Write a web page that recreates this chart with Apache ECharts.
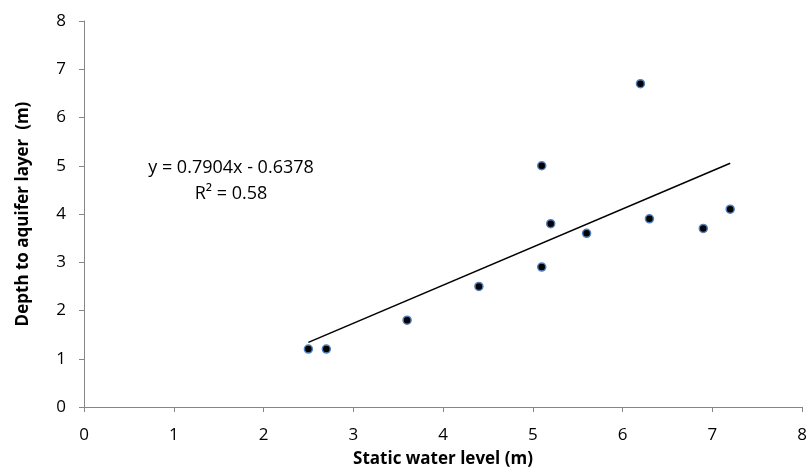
<!DOCTYPE html>
<html>
<head>
<meta charset="utf-8">
<script src="https://cdn.jsdelivr.net/npm/echarts@6/dist/echarts.min.js"></script>
<style>
html,body{margin:0;padding:0;background:#fff;}
#chart{width:810px;height:473px;}
</style>
</head>
<body>
<div id="chart"></div>
<script>
var staticLevel = [2.5, 2.7, 3.6, 4.4, 5.1, 5.1, 5.2, 5.6, 6.2, 6.3, 6.9, 7.2];
var aquiferDepth = [1.2, 1.2, 1.8, 2.5, 2.9, 5.0, 3.8, 3.6, 6.7, 3.9, 3.7, 4.1];
var trendSlope = 0.7904;
var trendIntercept = -0.6378;
var rSquared = 0.58;
var axisTicks = [0, 1, 2, 3, 4, 5, 6, 7, 8];

var points = staticLevel.map(function (x, i) { return [x, aquiferDepth[i]]; });
var xMin = Math.min.apply(null, staticLevel);
var xMax = Math.max.apply(null, staticLevel);
var trend = [[xMin, trendSlope * xMin + trendIntercept], [xMax, trendSlope * xMax + trendIntercept]];

var FONT = '"Open Sans", "Liberation Sans", sans-serif';
var axisCommon = {
  min: axisTicks[0], max: axisTicks[axisTicks.length - 1], interval: 1,
  splitLine: { show: false },
  axisLine: { show: true, onZero: false, lineStyle: { color: '#868686', width: 1 } },
  axisTick: { show: true, length: 5, lineStyle: { color: '#868686' } },
  axisLabel: { color: '#000', fontSize: 17, fontFamily: FONT },
  nameLocation: 'middle',
  nameTextStyle: { color: '#000', fontSize: 17, fontWeight: 'bold', fontFamily: FONT }
};

var chart = echarts.init(document.getElementById('chart'), null, { renderer: 'canvas' });
chart.setOption({
  animation: false,
  backgroundColor: '#fff',
  grid: { left: 84, right: 8, top: 21, bottom: 66, containLabel: false },
  xAxis: Object.assign({}, axisCommon, {
    type: 'value', name: 'Static water level (m)', nameGap: 44,
    axisLabel: Object.assign({}, axisCommon.axisLabel, { margin: 20 })
  }),
  yAxis: Object.assign({}, axisCommon, {
    type: 'value', name: 'Depth to aquifer layer  (m)', nameGap: 52,
    axisLabel: Object.assign({}, axisCommon.axisLabel, { margin: 18 })
  }),
  graphic: [{
    type: 'text', x: 231, y: 168,
    style: {
      text: 'y = ' + trendSlope + 'x - ' + Math.abs(trendIntercept),
      fill: '#000', font: '18px ' + FONT, align: 'center', verticalAlign: 'middle'
    }
  }, {
    type: 'text', x: 231, y: 194,
    style: {
      text: 'R\u00b2 = ' + rSquared.toFixed(2),
      fill: '#000', font: '18px ' + FONT, align: 'center', verticalAlign: 'middle'
    }
  }],
  series: [{
    type: 'line', data: trend, symbol: 'none', silent: true,
    lineStyle: { color: '#000', width: 1.5 }, z: 2
  }, {
    type: 'scatter', data: points, symbol: 'circle', symbolSize: 8,
    itemStyle: { color: '#000', borderColor: '#4F81BD', borderWidth: 1.5, opacity: 1 }, z: 3
  }]
});
</script>
</body>
</html>
